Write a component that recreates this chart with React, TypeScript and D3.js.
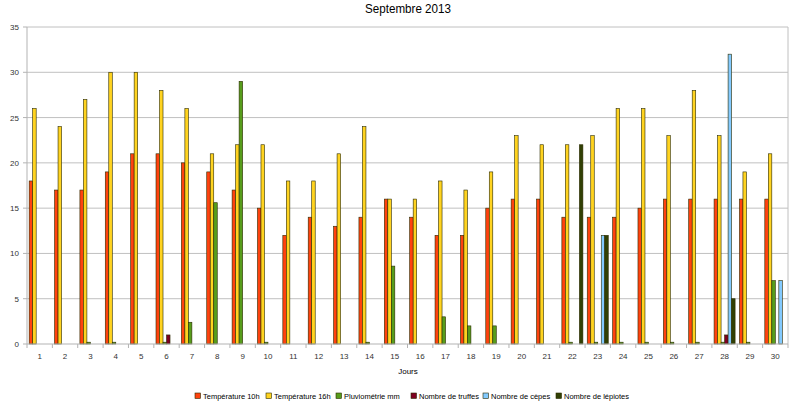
import React from "react";
import * as d3 from "d3";

const days = d3.range(1, 31).map(String);

const temp10h = [18, 17, 17, 19, 21, 21, 20, 19, 17, 15, 12, 14, 13, 14, 16, 14, 12, 12, 15, 16, 16, 14, 14, 14, 15, 16, 16, 16, 16, 16];
const temp16h = [26, 24, 27, 30, 30, 28, 26, 21, 22, 22, 18, 18, 21, 24, 16, 16, 18, 17, 19, 23, 22, 22, 23, 26, 26, 23, 28, 23, 19, 21];
const pluvio = [0, 0, 0.2, 0.2, 0, 0.2, 2.4, 15.6, 29, 0.2, 0, 0, 0, 0.2, 8.6, 0, 3, 2, 2, 0, 0, 0.2, 0.2, 0.2, 0.2, 0.2, 0.2, 0.2, 0.2, 7];
const truffes = [0, 0, 0, 0, 0, 1, 0, 0, 0, 0, 0, 0, 0, 0, 0, 0, 0, 0, 0, 0, 0, 0, 0, 0, 0, 0, 0, 1, 0, 0];
const cepes = [0, 0, 0, 0, 0, 0, 0, 0, 0, 0, 0, 0, 0, 0, 0, 0, 0, 0, 0, 0, 0, 0, 12, 0, 0, 0, 0, 32, 0, 7];
const lepiotes = [0, 0, 0, 0, 0, 0, 0, 0, 0, 0, 0, 0, 0, 0, 0, 0, 0, 0, 0, 0, 0, 22, 12, 0, 0, 0, 0, 5, 0, 0];

const seriesNames = ["Température 10h", "Température 16h", "Pluviométrie mm", "Nombre de truffes", "Nombre de cèpes", "Nombre de lépiotes"];
const seriesValues = [temp10h, temp16h, pluvio, truffes, cepes, lepiotes];
const colors = ["#ff420e", "#ffd320", "#579d1c", "#7e0021", "#83caff", "#314004"];
const yTicks = [0, 5, 10, 15, 20, 25, 30, 35];

const W = 800;
const H = 408;
const left = 27;
const right = 788;
const top = 27;
const bottom = 344;
const font = "'Liberation Sans', Arial, sans-serif";

export default function App() {
  const x = d3.scaleBand<string>().domain(days).range([left, right]).paddingInner(0).paddingOuter(0);
  const inner = d3
    .scaleBand<number>()
    .domain(d3.range(seriesNames.length))
    .range([0, x.bandwidth()])
    .paddingInner(0)
    .paddingOuter(0.62);
  const y = d3.scaleLinear().domain([0, 35]).range([bottom, top]);

  // legend positions
  const legendX = [195, 266, 336, 411, 483, 556];

  return (
    <svg width={W} height={H} style={{ position: "absolute", left: 0, top: 0, background: "#fff" }} fontFamily={font}>
      <text x={408} y={13} textAnchor="middle" fontSize={12} fill="#000" textLength={86} lengthAdjust="spacingAndGlyphs">
        Septembre 2013
      </text>

      {yTicks.map((t) => (
        <g key={t}>
          {t > 0 && <line x1={left} x2={right} y1={y(t)} y2={y(t)} stroke="#c0c0c0" strokeWidth={1} />}
          <line x1={left - 4} x2={left} y1={y(t)} y2={y(t)} stroke="#b3b3b3" />
          <text x={left - 8} y={y(t) + 3} textAnchor="end" fontSize={8} fill="#333">
            {t}
          </text>
        </g>
      ))}
      <line x1={right} x2={right} y1={top} y2={bottom} stroke="#c0c0c0" />
      <line x1={left} x2={left} y1={top} y2={bottom} stroke="#b3b3b3" />

      {days.map((d, i) => (
        <g key={d}>
          {seriesValues.map((vals, s) => {
            const v = vals[i];
            if (!v) return null;
            return (
              <rect
                key={s}
                x={(x(d) as number) + (inner(s) as number)}
                y={y(v)}
                width={inner.bandwidth()}
                height={bottom - y(v)}
                fill={colors[s]}
                stroke="#2b2b00"
                strokeWidth={0.6}
              />
            );
          })}
        </g>
      ))}

      <line x1={left} x2={right} y1={bottom} y2={bottom} stroke="#b3b3b3" />
      {days.map((d) => (
        <line key={"t" + d} x1={x(d) as number} x2={x(d) as number} y1={bottom} y2={bottom + 4} stroke="#b3b3b3" />
      ))}
      <line x1={right} x2={right} y1={bottom} y2={bottom + 4} stroke="#b3b3b3" />
      {days.map((d) => (
        <text key={"l" + d} x={(x(d) as number) + x.bandwidth() / 2} y={359} textAnchor="middle" fontSize={8} fill="#333">
          {d}
        </text>
      ))}

      <text x={408} y={374} textAnchor="middle" fontSize={8} fill="#000">
        Jours
      </text>

      {seriesNames.map((n, s) => (
        <g key={n} transform={`translate(${legendX[s]},393)`}>
          <rect x={0} y={0} width={5.5} height={5.5} fill={colors[s]} stroke="#2b2b00" strokeWidth={0.6} />
          <text x={8} y={6} fontSize={7.5} fill="#000">
            {n}
          </text>
        </g>
      ))}
    </svg>
  );
}
